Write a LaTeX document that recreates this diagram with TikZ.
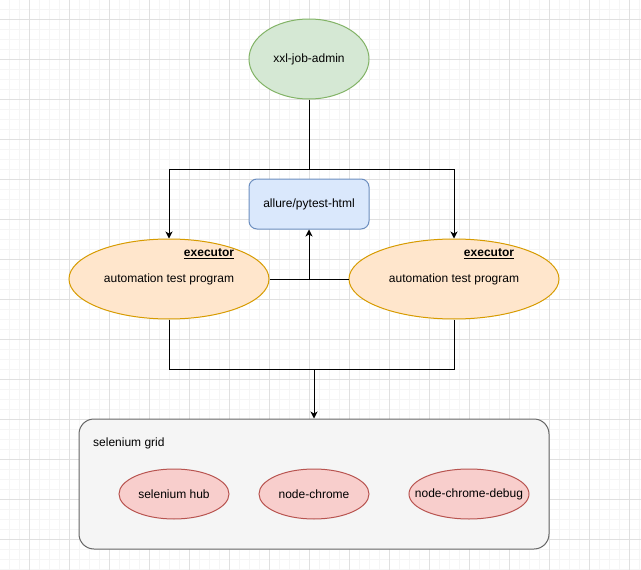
\documentclass[tikz,border=0pt]{standalone}
\usepackage{fontspec}
\setmainfont{Liberation Sans}
\usetikzlibrary{shapes.geometric,arrows.meta}
\definecolor{gridminor}{HTML}{F5F5F5}
\definecolor{gridmajor}{HTML}{E0E0E0}
\definecolor{greenfill}{HTML}{D5E8D4}
\definecolor{greenline}{HTML}{82B366}
\definecolor{bluefill}{HTML}{DAE8FC}
\definecolor{blueline}{HTML}{6C8EBF}
\definecolor{orangefill}{HTML}{FFE6CC}
\definecolor{orangeline}{HTML}{D79B00}
\definecolor{redfill}{HTML}{F8CECC}
\definecolor{redline}{HTML}{B85450}
\definecolor{grayfill}{HTML}{F5F5F5}
\definecolor{grayline}{HTML}{666666}
\tikzset{
  every node/.style={font=\fontsize{12}{14}\selectfont, inner sep=0pt},
  greenell/.style={ellipse, draw=greenline, fill=greenfill, line width=1pt},
  orangeell/.style={ellipse, draw=orangeline, fill=orangefill, line width=1pt},
  redell/.style={ellipse, draw=redline, fill=redfill, line width=1pt, minimum height=50pt},
  bluebox/.style={rectangle, rounded corners=8pt, draw=blueline, fill=bluefill, line width=1pt, minimum width=120pt, minimum height=50pt},
  graybox/.style={rectangle, rounded corners=15pt, draw=grayline, fill=grayfill, line width=1pt, minimum width=470pt, minimum height=130pt},
  conn/.style={line width=1pt, black},
  arr/.style={conn, -{Stealth[length=7pt,width=7pt,inset=2pt]}},
  exlabel/.style={font=\fontsize{12}{14}\selectfont\bfseries},
}
\begin{document}
\begin{tikzpicture}[x=1pt,y=-1pt]
\useasboundingbox (0,0) rectangle (641,570);
\fill[white] (0,0) rectangle (641,570);
% grid
\foreach \x in {-1,9,...,641} \draw[gridminor, line width=0.8pt] (\x,0) -- (\x,570);
\foreach \y in {-1,9,...,570} \draw[gridminor, line width=0.8pt] (0,\y) -- (641,\y);
\foreach \x in {29,69,...,641} \draw[gridmajor, line width=0.8pt] (\x,0) -- (\x,570);
\foreach \y in {19,59,...,570} \draw[gridmajor, line width=0.8pt] (0,\y) -- (641,\y);

% nodes
\node[greenell, minimum width=120pt, minimum height=80pt] (admin) at (309,59) {};
\node (admintxt) at (309,59) {xxl-job-admin};
\node[bluebox] (allure) at (309,204) {allure/pytest-html};

\node[orangeell, minimum width=200pt, minimum height=80pt] (exL) at (169,279) {};
\node[exlabel] (exLt) at (209,254) {\underline{executor}};
\node (exLp) at (169,279) {automation test program};

\node[orangeell, minimum width=210pt, minimum height=80pt] (exR) at (454,279) {};
\node[exlabel] (exRt) at (489,254) {\underline{executor}};
\node (exRp) at (454,279) {automation test program};

\node[graybox] (grid) at (314,484) {};
\node[anchor=west] (gridt) at (93,443) {selenium grid};
\node[redell, minimum width=110pt] (hub) at (174,494) {};
\node (hubt) at (174,494) {selenium hub};
\node[redell, minimum width=110pt] (chrome) at (314,494) {};
\node (chromet) at (314,494) {node-chrome};
\node[redell, minimum width=120pt] (debug) at (469,494) {};
\node (debugt) at (469,494) {node-chrome-debug};

% helper coordinates
\coordinate (hy) at (0,169);
\coordinate (by) at (0,369);

% connectors
\draw[conn] (admin.south) -- (admin.south |- hy);
\draw[arr] (admin.south |- hy) -| (exL.north);
\draw[arr] (admin.south |- hy) -| (exR.north);
\draw[arr] (exL.east) -| (allure.south);
\draw[conn] (exR.west) -- (allure.south |- exR.west);
\draw[conn] (exL.south) -- (exL.south |- by) -| (exR.south);
\draw[arr] (grid.north |- by) -- (grid.north);
\end{tikzpicture}
\end{document}
